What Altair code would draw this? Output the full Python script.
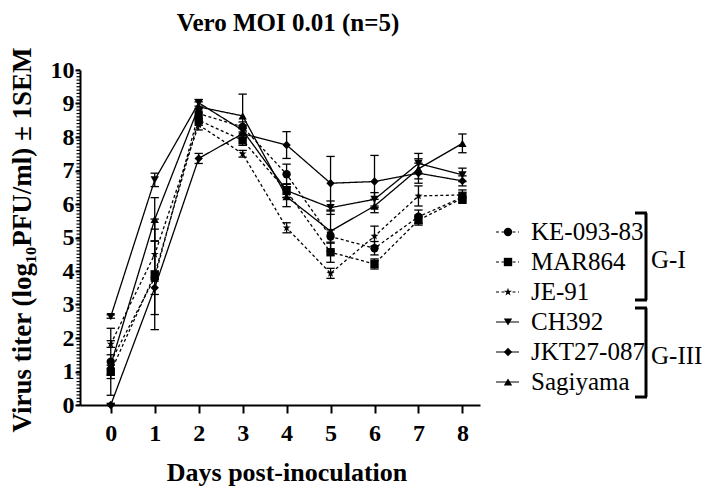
import altair as alt
import pandas as pd

FONT = "Liberation Serif"

days = [0, 1, 2, 3, 4, 5, 6, 7, 8]
strains = ["KE-093-83", "MAR864", "JE-91", "CH392", "JKT27-087", "Sagiyama"]
groups = ["G-I", "G-I", "G-I", "G-III", "G-III", "G-III"]

ke_093_83 = [1.29, 3.80, 8.70, 8.30, 6.89, 5.03, 4.68, 5.62, 6.20]
mar864 = [0.99, 3.90, 8.50, 7.90, 6.39, 4.56, 4.21, 5.52, 6.17]
je_91 = [1.82, 4.50, 8.36, 7.50, 5.29, 3.93, 5.04, 6.24, 6.27]
ch392 = [2.64, 6.72, 9.02, 8.20, 6.40, 5.89, 6.14, 7.21, 6.87]
jkt27_087 = [0.00, 3.50, 7.36, 8.10, 7.76, 6.62, 6.67, 6.92, 6.69]
sagiyama = [1.20, 5.54, 8.90, 8.63, 6.22, 5.19, 5.94, 7.05, 7.81]

sem_ke = [1.00, 1.10, 0.15, 0.15, 0.30, 0.20, 0.20, 0.20, 0.15]
sem_mar = [0.20, 1.65, 0.15, 0.15, 0.20, 0.30, 0.15, 0.15, 0.15]
sem_je = [0.10, 0.75, 0.15, 0.10, 0.15, 0.15, 0.30, 0.30, 0.15]
sem_ch = [0.05, 0.20, 0.10, 0.15, 0.20, 0.20, 0.20, 0.30, 0.20]
sem_jkt = [0.05, 0.20, 0.15, 0.15, 0.40, 0.80, 0.78, 0.30, 0.15]
sem_sag = [0.30, 0.65, 0.15, 0.65, 0.30, 0.60, 0.20, 0.30, 0.28]

values = [ke_093_83, mar864, je_91, ch392, jkt27_087, sagiyama]
sems = [sem_ke, sem_mar, sem_je, sem_ch, sem_jkt, sem_sag]

rows = []
for s, g, vals, errs in zip(strains, groups, values, sems):
    for d, v, e in zip(days, vals, errs):
        rows.append({"strain": s, "group": g, "day": d, "titer": v,
                     "lo": max(v - e, 0.0), "hi": v + e})
df = pd.DataFrame(rows)

legend_df = pd.DataFrame({"strain": strains, "group": groups,
                          "row": list(range(len(strains)))})

STAR = ("M0,-1L0.235,-0.324L0.951,-0.309L0.380,0.124L0.588,0.809L0,0.4"
        "L-0.588,0.809L-0.380,0.124L-0.951,-0.309L-0.235,-0.324Z")

shape_scale = alt.Scale(domain=strains,
                        range=["circle", "square", STAR, "triangle-down", "diamond", "triangle-up"])
size_scale = alt.Scale(domain=strains, range=[70, 70, 40, 85, 45, 55])
dash_scale = alt.Scale(domain=["G-I", "G-III"], range=[[3, 2.5], [1, 0]])

x_scale = alt.Scale(domain=[-0.7, 8.4], nice=False, zero=False)
y_scale = alt.Scale(domain=[0, 10], nice=False)

x_axis = alt.Axis(values=days, title=None, labelFont=FONT, labelFontWeight="bold",
                  labelFontSize=24, labelColor="black", tickSize=8, tickWidth=2,
                  tickColor="black", domainColor="black", domainWidth=2,
                  labelPadding=8, grid=False, labelOverlap=False)
y_axis = alt.Axis(values=list(range(11)), title=None, labelFont=FONT, labelFontWeight="bold",
                  labelFontSize=24, labelColor="black", tickSize=5, tickWidth=2,
                  tickColor="black", domainColor="black", domainWidth=2,
                  labelPadding=1, grid=False, labelOverlap=False, labelBound=False,
                  labelFlush=False)

X = alt.X("day:Q", scale=x_scale, axis=x_axis)

base = alt.Chart(df)

lines = base.mark_line(color="black", strokeWidth=1.3).encode(
    x=X,
    y=alt.Y("titer:Q", scale=y_scale, axis=y_axis),
    detail="strain:N",
    strokeDash=alt.StrokeDash("group:N", scale=dash_scale, legend=None),
)

bars = base.mark_rule(color="black", strokeWidth=1.3).encode(
    x=X, y=alt.Y("lo:Q", scale=y_scale, axis=y_axis), y2="hi:Q")

caps = base.transform_fold(["lo", "hi"], as_=["k", "capy"]).mark_point(
    shape="stroke", size=70, stroke="black", strokeWidth=1.3, opacity=1
).encode(x=X, y=alt.Y("capy:Q", scale=y_scale, axis=y_axis))

points = base.mark_point(filled=True, color="black", opacity=1).encode(
    x=X, y=alt.Y("titer:Q", scale=y_scale, axis=y_axis),
    shape=alt.Shape("strain:N", scale=shape_scale, legend=None),
    size=alt.Size("strain:N", scale=size_scale, legend=None),
)

minor_ticks = [i / 10 for i in range(101)]
minor = alt.Chart(pd.DataFrame({"v": minor_ticks})).mark_rule(
    color="black", strokeWidth=1.2).encode(
    y=alt.Y("v:Q", scale=y_scale, axis=y_axis), x=alt.value(-3.5), x2=alt.value(0))

main = alt.layer(lines, bars, caps, points, minor)

# legend (drawn by hand, like the original)
leg_y = alt.Y("row:Q", scale=alt.Scale(domain=[0, 5], range=[162, 312]), axis=None)
leg_base = alt.Chart(legend_df)
leg_lines = leg_base.mark_rule(color="black", strokeWidth=1.2).encode(
    x=alt.value(416), x2=alt.value(439), y=leg_y,
    strokeDash=alt.StrokeDash("group:N", scale=dash_scale, legend=None))
leg_points = leg_base.mark_point(filled=True, color="black", opacity=1).encode(
    x=alt.value(428), y=leg_y,
    shape=alt.Shape("strain:N", scale=shape_scale, legend=None),
    size=alt.Size("strain:N", scale=size_scale, legend=None))
leg_text = leg_base.mark_text(align="left", baseline="middle", font=FONT,
                              fontSize=25, color="black").encode(
    x=alt.value(451), y=leg_y, text="strain:N")

legend = alt.layer(leg_lines, leg_points, leg_text)

# group brackets
brk_labels = ["G-I", "G-III"]
brk_top = [143, 238]
brk_bot = [230, 327]
br_layers = []
for g, t, b in zip(brk_labels, brk_top, brk_bot):
    c = alt.Chart(pd.DataFrame({"g": [g]}))
    br_layers.append(c.mark_rule(color="black", strokeWidth=3).encode(
        x=alt.value(566), y=alt.value(t), y2=alt.value(b)))
    br_layers.append(c.mark_rule(color="black", strokeWidth=3).encode(
        x=alt.value(555), x2=alt.value(567), y=alt.value(t)))
    br_layers.append(c.mark_rule(color="black", strokeWidth=3).encode(
        x=alt.value(555), x2=alt.value(567), y=alt.value(b)))
    br_layers.append(c.mark_text(align="left", baseline="middle", font=FONT,
                                 fontSize=25, color="black").encode(
        x=alt.value(571), y=alt.value((t + b) / 2 + 3), text="g:N"))

# titles
title_txt = alt.Chart(pd.DataFrame({"t": ["Vero MOI 0.01 (n=5)"]})).mark_text(
    align="center", baseline="middle", font=FONT, fontSize=25, fontWeight="bold",
    color="black").encode(x=alt.value(208), y=alt.value(-47), text="t:N")
xtitle = alt.Chart(pd.DataFrame({"t": ["Days post-inoculation"]})).mark_text(
    align="center", baseline="middle", font=FONT, fontSize=26, fontWeight="bold",
    color="black").encode(x=alt.value(207), y=alt.value(403), text="t:N")
ytitle = alt.Chart(pd.DataFrame({"t": ["Virus titer (log\u2081\u2080PFU/ml) \u00b1 1SEM"]})).mark_text(
    align="center", baseline="middle", font=FONT, fontSize=27, fontWeight="bold",
    color="black", angle=270).encode(x=alt.value(-57), y=alt.value(170), text="t:N")

chart = alt.layer(main, legend, *br_layers, title_txt, xtitle, ytitle).resolve_scale(
    y="independent"
).properties(
    width=400, height=335,
    autosize=alt.AutoSizeParams(type="none"),
    padding={"left": 72, "top": 62, "right": 230, "bottom": 83},
).configure_view(stroke=None)

chart.save("out.html", embed_options={"renderer": "svg", "actions": False})
